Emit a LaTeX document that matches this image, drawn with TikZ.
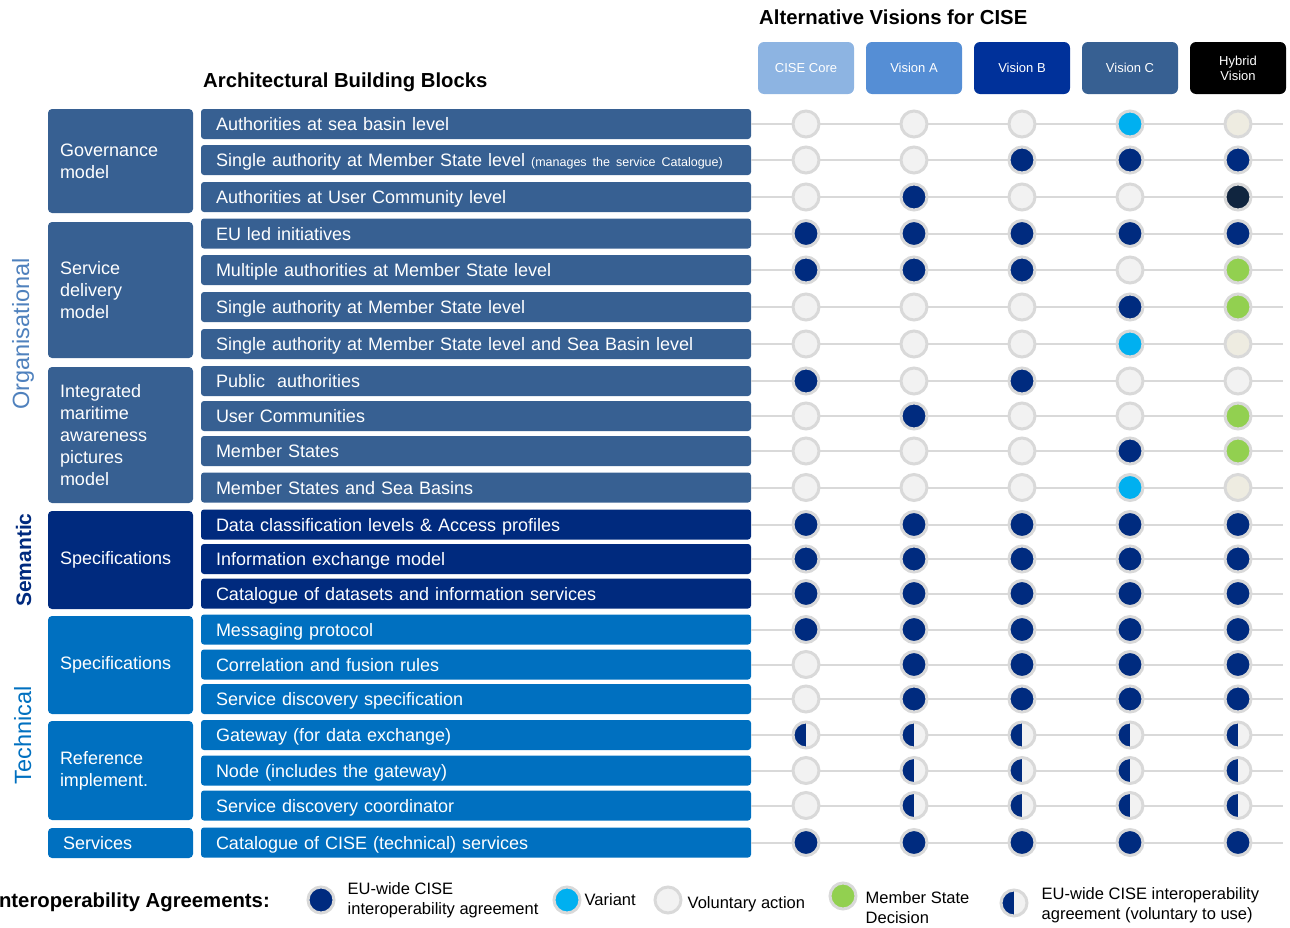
\documentclass[tikz,border=0pt]{standalone}
\usepackage{fontspec}
\setmainfont{Liberation Sans}
\usetikzlibrary{positioning}

\definecolor{orgblue}{HTML}{376092}
\definecolor{semnavy}{HTML}{002A7E}
\definecolor{techblue}{HTML}{0070C0}
\definecolor{viscore}{HTML}{8DB4E2}
\definecolor{visa}{HTML}{558ED5}
\definecolor{visb}{HTML}{00319A}
\definecolor{visc}{HTML}{376092}
\definecolor{orglabel}{HTML}{4F81BD}
\definecolor{agnavy}{HTML}{002B7F}
\definecolor{agcyan}{HTML}{00B0F0}
\definecolor{aggreen}{HTML}{92D050}
\definecolor{agbeige}{HTML}{EEECE1}
\definecolor{agdark}{HTML}{10253F}
\definecolor{agvol}{HTML}{F2F2F2}
\definecolor{agring}{HTML}{D9D9D9}

\begin{document}
\begin{tikzpicture}[x=1pt,y=-1pt]

\tikzset{
  grpbox/.style={rounded corners=4pt, text=white, minimum width=145pt, text width=121pt,
    inner xsep=12pt, align=left, font=\fontsize{18}{22}\selectfont},
  rowbox/.style={rounded corners=3pt, text=white, minimum height=30pt, text width=520pt,
    inner xsep=15pt, inner ysep=0pt, text height=13pt, text depth=0pt, align=left,
    font=\fontsize{18}{20}\selectfont},
  vishead/.style={rounded corners=6pt, text=white, minimum width=96pt, minimum height=52pt,
    inner sep=0pt, align=center, font=\fontsize{13}{15}\selectfont},
  agr/.style={circle, draw=agring, line width=3pt, minimum size=26pt, inner sep=0pt},
  stv/.style={fill=agvol},
  std/.style={fill=agnavy},
  stc/.style={fill=agcyan},
  stg/.style={fill=aggreen},
  stb/.style={fill=agbeige},
  stn/.style={fill=agdark},
  sth/.style={fill=agvol, path picture={
    \fill[agnavy] (path picture bounding box.south west) rectangle (path picture bounding box.north);}},
  rowline/.style={draw=agring, line width=2pt},
  legtext/.style={align=left, inner sep=0pt, font=\fontsize{16.5}{20.5}\selectfont},
  sidelabel/.style={rotate=90, anchor=base, inner sep=0pt, font=\fontsize{23.5}{26}\selectfont},
  bigtitle/.style={inner sep=0pt, font=\bfseries\fontsize{20.3}{23}\selectfont},
}

\useasboundingbox (0,0) rectangle (1290,927);

%% Titles
\node[bigtitle, anchor=base west] (alttitle) at (759,24) {Alternative Visions for CISE};
\node[bigtitle, anchor=base west] (abbtitle) at (203,87) {Architectural Building Blocks};

%% Vision headers
\foreach \k/\x/\col/\txt in {1/806/viscore/CISE Core, 2/914/visa/Vision A, 3/1022/visb/Vision B,
                             4/1130/visc/Vision C, 5/1238/black/{Hybrid\\Vision}}
  \node[vishead, fill=\col] (vis\k) at (\x,68) {\txt};

%% Side labels
\node[sidelabel, text=orglabel] (lorg) at (29,334) {Organisational};
\node[sidelabel, text=semnavy, font=\bfseries\fontsize{21}{24}\selectfont] (lsem) at (31,560) {Semantic};
\node[sidelabel, text=techblue] (ltech) at (31,735.5) {Technical};

%% Building block groups
\node[grpbox, fill=orgblue, minimum height=104pt] (gov) at (120.5,161) {Governance\\model};
\node[grpbox, fill=orgblue, minimum height=136pt] (sdm) at (120.5,290) {Service\\delivery\\model};
\node[grpbox, fill=orgblue, minimum height=136pt] (imap) at (120.5,435) {Integrated\\maritime\\awareness\\pictures\\model};
\node[grpbox, fill=semnavy, minimum height=98pt] (semspec) at (120.5,560) {Specifications};
\node[grpbox, fill=techblue, minimum height=98pt] (techspec) at (120.5,665) {Specifications};
\node[grpbox, fill=techblue, minimum height=99pt] (refimpl) at (120.5,770.5) {Reference\\implement.};
\node[grpbox, fill=techblue, minimum height=30pt] (serv) at (120.5,843) {\hspace{3pt}Services};

%% Building blocks
\foreach \r/\y/\col/\txt in {
  1/124/orgblue/Authorities at sea basin level,
  2/160/orgblue/{Single authority at Member State level {\fontsize{12.5}{15}\selectfont(manages the service Catalogue)}},
  3/197/orgblue/Authorities at User Community level,
  4/233.5/orgblue/EU led initiatives,
  5/270/orgblue/Multiple authorities at Member State level,
  6/307/orgblue/Single authority at Member State level,
  7/344/orgblue/Single authority at Member State level and Sea Basin level,
  8/381/orgblue/Public~ authorities,
  9/416/orgblue/User Communities,
  10/451/orgblue/Member States,
  11/487.5/orgblue/Member States and Sea Basins,
  12/524.5/semnavy/Data classification levels \& Access profiles,
  13/559/semnavy/Information exchange model,
  14/593.5/semnavy/Catalogue of datasets and information services,
  15/629.5/techblue/Messaging protocol,
  16/664.5/techblue/Correlation and fusion rules,
  17/699/techblue/Service discovery specification,
  18/735/techblue/Gateway (for data exchange),
  19/770.5/techblue/Node (includes the gateway),
  20/805.5/techblue/Service discovery coordinator,
  21/842.5/techblue/Catalogue of CISE (technical) services}
{
  \node[rowbox, fill=\col] (row\r) at (476,\y) {\txt};
  \coordinate (rend\r) at (1283,\y);
  \draw[rowline] (row\r.east) -- (rend\r);
}

%% Agreements per vision
\foreach \r/\pa/\pb/\pc/\pd/\pe in {1/v/v/v/c/b, 2/v/v/d/d/d, 3/v/d/v/v/n, 4/d/d/d/d/d,
    5/d/d/d/v/g, 6/v/v/v/d/g, 7/v/v/v/c/b, 8/d/v/d/v/v, 9/v/d/v/v/g, 10/v/v/v/d/g,
    11/v/v/v/c/b, 12/d/d/d/d/d, 13/d/d/d/d/d, 14/d/d/d/d/d, 15/d/d/d/d/d, 16/v/d/d/d/d,
    17/v/d/d/d/d, 18/h/h/h/h/h, 19/v/h/h/h/h, 20/v/h/h/h/h, 21/d/d/d/d/d}
  \foreach \s [count=\k] in {\pa,\pb,\pc,\pd,\pe}
    \node[agr, st\s] (ag\r-\k) at (vis\k |- row\r) {};

%% Legend
\node[bigtitle, anchor=base east] (legtitle) at (270,907) {Interoperability Agreements:};
\node[agr, std] (legd) at (321,900) {};
\node[legtext, right=12pt of legd] (legdtxt) {EU-wide CISE\\interoperability agreement};
\node[agr, stc] (legc) at (567,900) {};
\node[legtext, right=3pt of legc] (legctxt) {Variant};
\node[agr, stv] (legv) at (668,900) {};
\node[legtext, right=5pt of legv, yshift=-4pt] (legvtxt) {Voluntary action};
\node[agr, stg] (legg) at (843,896) {};
\node[legtext, right=8pt of legg, yshift=-12pt, font=\fontsize{16.5}{20}\selectfont] (leggtxt) {Member State\\Decision};
\node[agr, sth] (legh) at (1014,903) {};
\node[legtext, right=13pt of legh, yshift=-2pt, font=\fontsize{16.5}{20}\selectfont] (leghtxt) {EU-wide CISE interoperability\\agreement (voluntary to use)};

\end{tikzpicture}
\end{document}
